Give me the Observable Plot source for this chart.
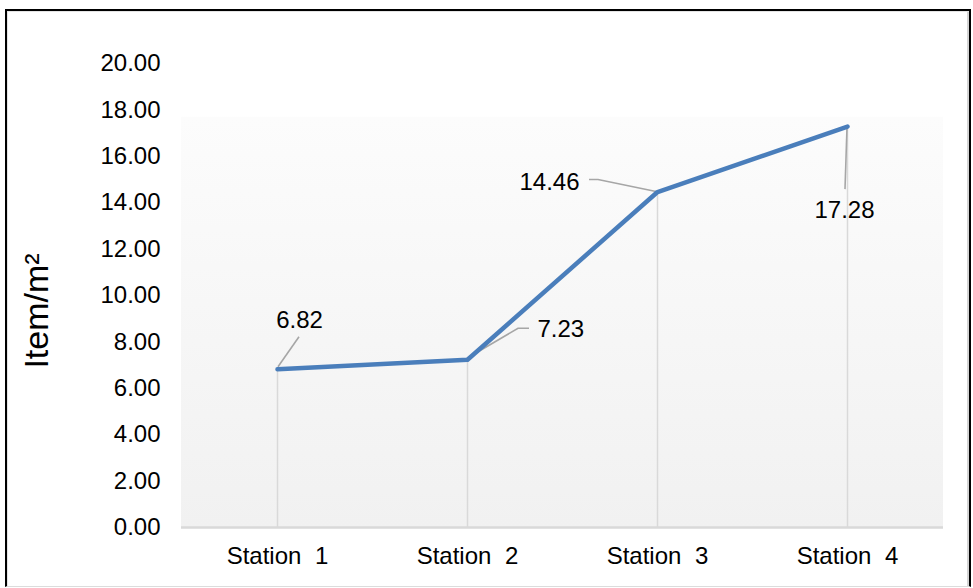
<!DOCTYPE html>
<html><head><meta charset="utf-8">
<script src="https://cdn.jsdelivr.net/npm/d3@7"></script>
<script src="https://cdn.jsdelivr.net/npm/@observablehq/plot@0.6"></script>
<style>
body{margin:0;background:#fff;}
#wrap{position:relative;width:973px;height:588px;overflow:hidden;}
#chart{position:absolute;left:0;top:0;}
#box{position:absolute;left:5px;top:9px;width:962px;height:575px;border:2px solid #000;border-bottom:1px solid #dcdcdc;box-shadow:inset 1px 1px 0 #e4e4e4, inset -2px 0 0 #d4d4d4;pointer-events:none;}
</style></head><body>
<div id="wrap"><div id="chart"></div><div id="box"></div></div>
<script>
// ---- data ----
const stations = ["Station 1", "Station 2", "Station 3", "Station 4"];
const density = [6.82, 7.23, 14.46, 17.28];
const yTicks = [0, 2, 4, 6, 8, 10, 12, 14, 16, 18, 20];
const yTitle = "Item/m\u00B2";

const data = stations.map((s, i) => ({station: s, value: density[i]}));

// ---- label layout (pixel offsets from each point) ----
const labelLayout = [
  {leader: [[1, -2], [22, -32]], dx: 22, dy: -49, anchor: "middle"},
  {leader: [[0, -1], [51, -31], [62, -31]], dx: 70, dy: -30, anchor: "start"},
  {leader: [[-1, 0], [-59, -12], [-68, -12]], dx: -78, dy: -10, anchor: "end"},
  {leader: [[0, 1], [-2, 63]], dx: -3, dy: 84, anchor: "middle"}
];

const FONT = "Arial, 'Liberation Sans', sans-serif";

const background = (index, scales, values, dim) => {
  const g = d3.create("svg:g");
  const defs = g.append("defs");
  const lg = defs.append("linearGradient").attr("id", "bgGrad")
    .attr("x1", 0).attr("y1", 0).attr("x2", 0).attr("y2", 1);
  [[0, "#ffffff"], [0.115, "#ffffff"], [0.117, "#fcfcfc"], [1, "#f1f1f1"]]
    .forEach(([o, c]) => lg.append("stop").attr("offset", o).attr("stop-color", c));
  g.append("rect")
    .attr("x", dim.marginLeft).attr("y", dim.marginTop)
    .attr("width", dim.width - dim.marginLeft - dim.marginRight)
    .attr("height", dim.height - dim.marginTop - dim.marginBottom)
    .attr("fill", "url(#bgGrad)");
  return g.node();
};

const leaders = (index, scales) => {
  const g = d3.create("svg:g").attr("fill", "none").attr("stroke", "#a6a6a6").attr("stroke-width", 1.6);
  data.forEach((d, i) => {
    const px = scales.x(d.station), py = scales.y(d.value);
    const pts = labelLayout[i].leader.map(([dx, dy]) => [px + dx, py + dy]);
    g.append("path").attr("d", d3.line()(pts));
  });
  return g.node();
};

const plot = Plot.plot({
  width: 973,
  height: 588,
  marginTop: 63,
  marginBottom: 61,
  marginLeft: 181,
  marginRight: 30,
  style: {fontSize: "24px", fontFamily: FONT, color: "#000", background: "transparent", overflow: "visible"},
  x: {type: "point", domain: stations, padding: 0.5, tickSize: 0, tickPadding: 19, label: null},
  y: {domain: [0, 20], ticks: yTicks, tickFormat: d => d.toFixed(2), tickSize: 0, tickPadding: 21, label: null},
  marks: [
    background,
    Plot.ruleX(data, {x: "station", y1: 0, y2: "value", stroke: "#d9d9d9", strokeWidth: 1.5}),
    Plot.ruleY([0], {stroke: "#d9d9d9", strokeWidth: 2.5}),
    leaders,
    Plot.line(data, {x: "station", y: "value", stroke: "#4a7ebb", strokeWidth: 4.5, strokeLinejoin: "round", strokeLinecap: "round"}),
    ...labelLayout.map((L, i) => Plot.text([data[i]], {
      x: "station", y: "value", text: d => d.value.toFixed(2),
      dx: L.dx, dy: L.dy, textAnchor: L.anchor, fontSize: 24, fill: "#000"
    }))
  ]
});

const svg = d3.select(plot);
svg.selectAll("text").filter(function() { return /^Station/.test(this.textContent); })
  .style("word-spacing", "7px");
svg.append("text")
  .attr("transform", "translate(36,311) rotate(-90)")
  .attr("text-anchor", "middle")
  .attr("dominant-baseline", "central")
  .attr("font-size", 34)
  .attr("font-family", FONT)
  .attr("fill", "#000")
  .text(yTitle);

document.getElementById("chart").append(plot);
</script>
</body></html>
